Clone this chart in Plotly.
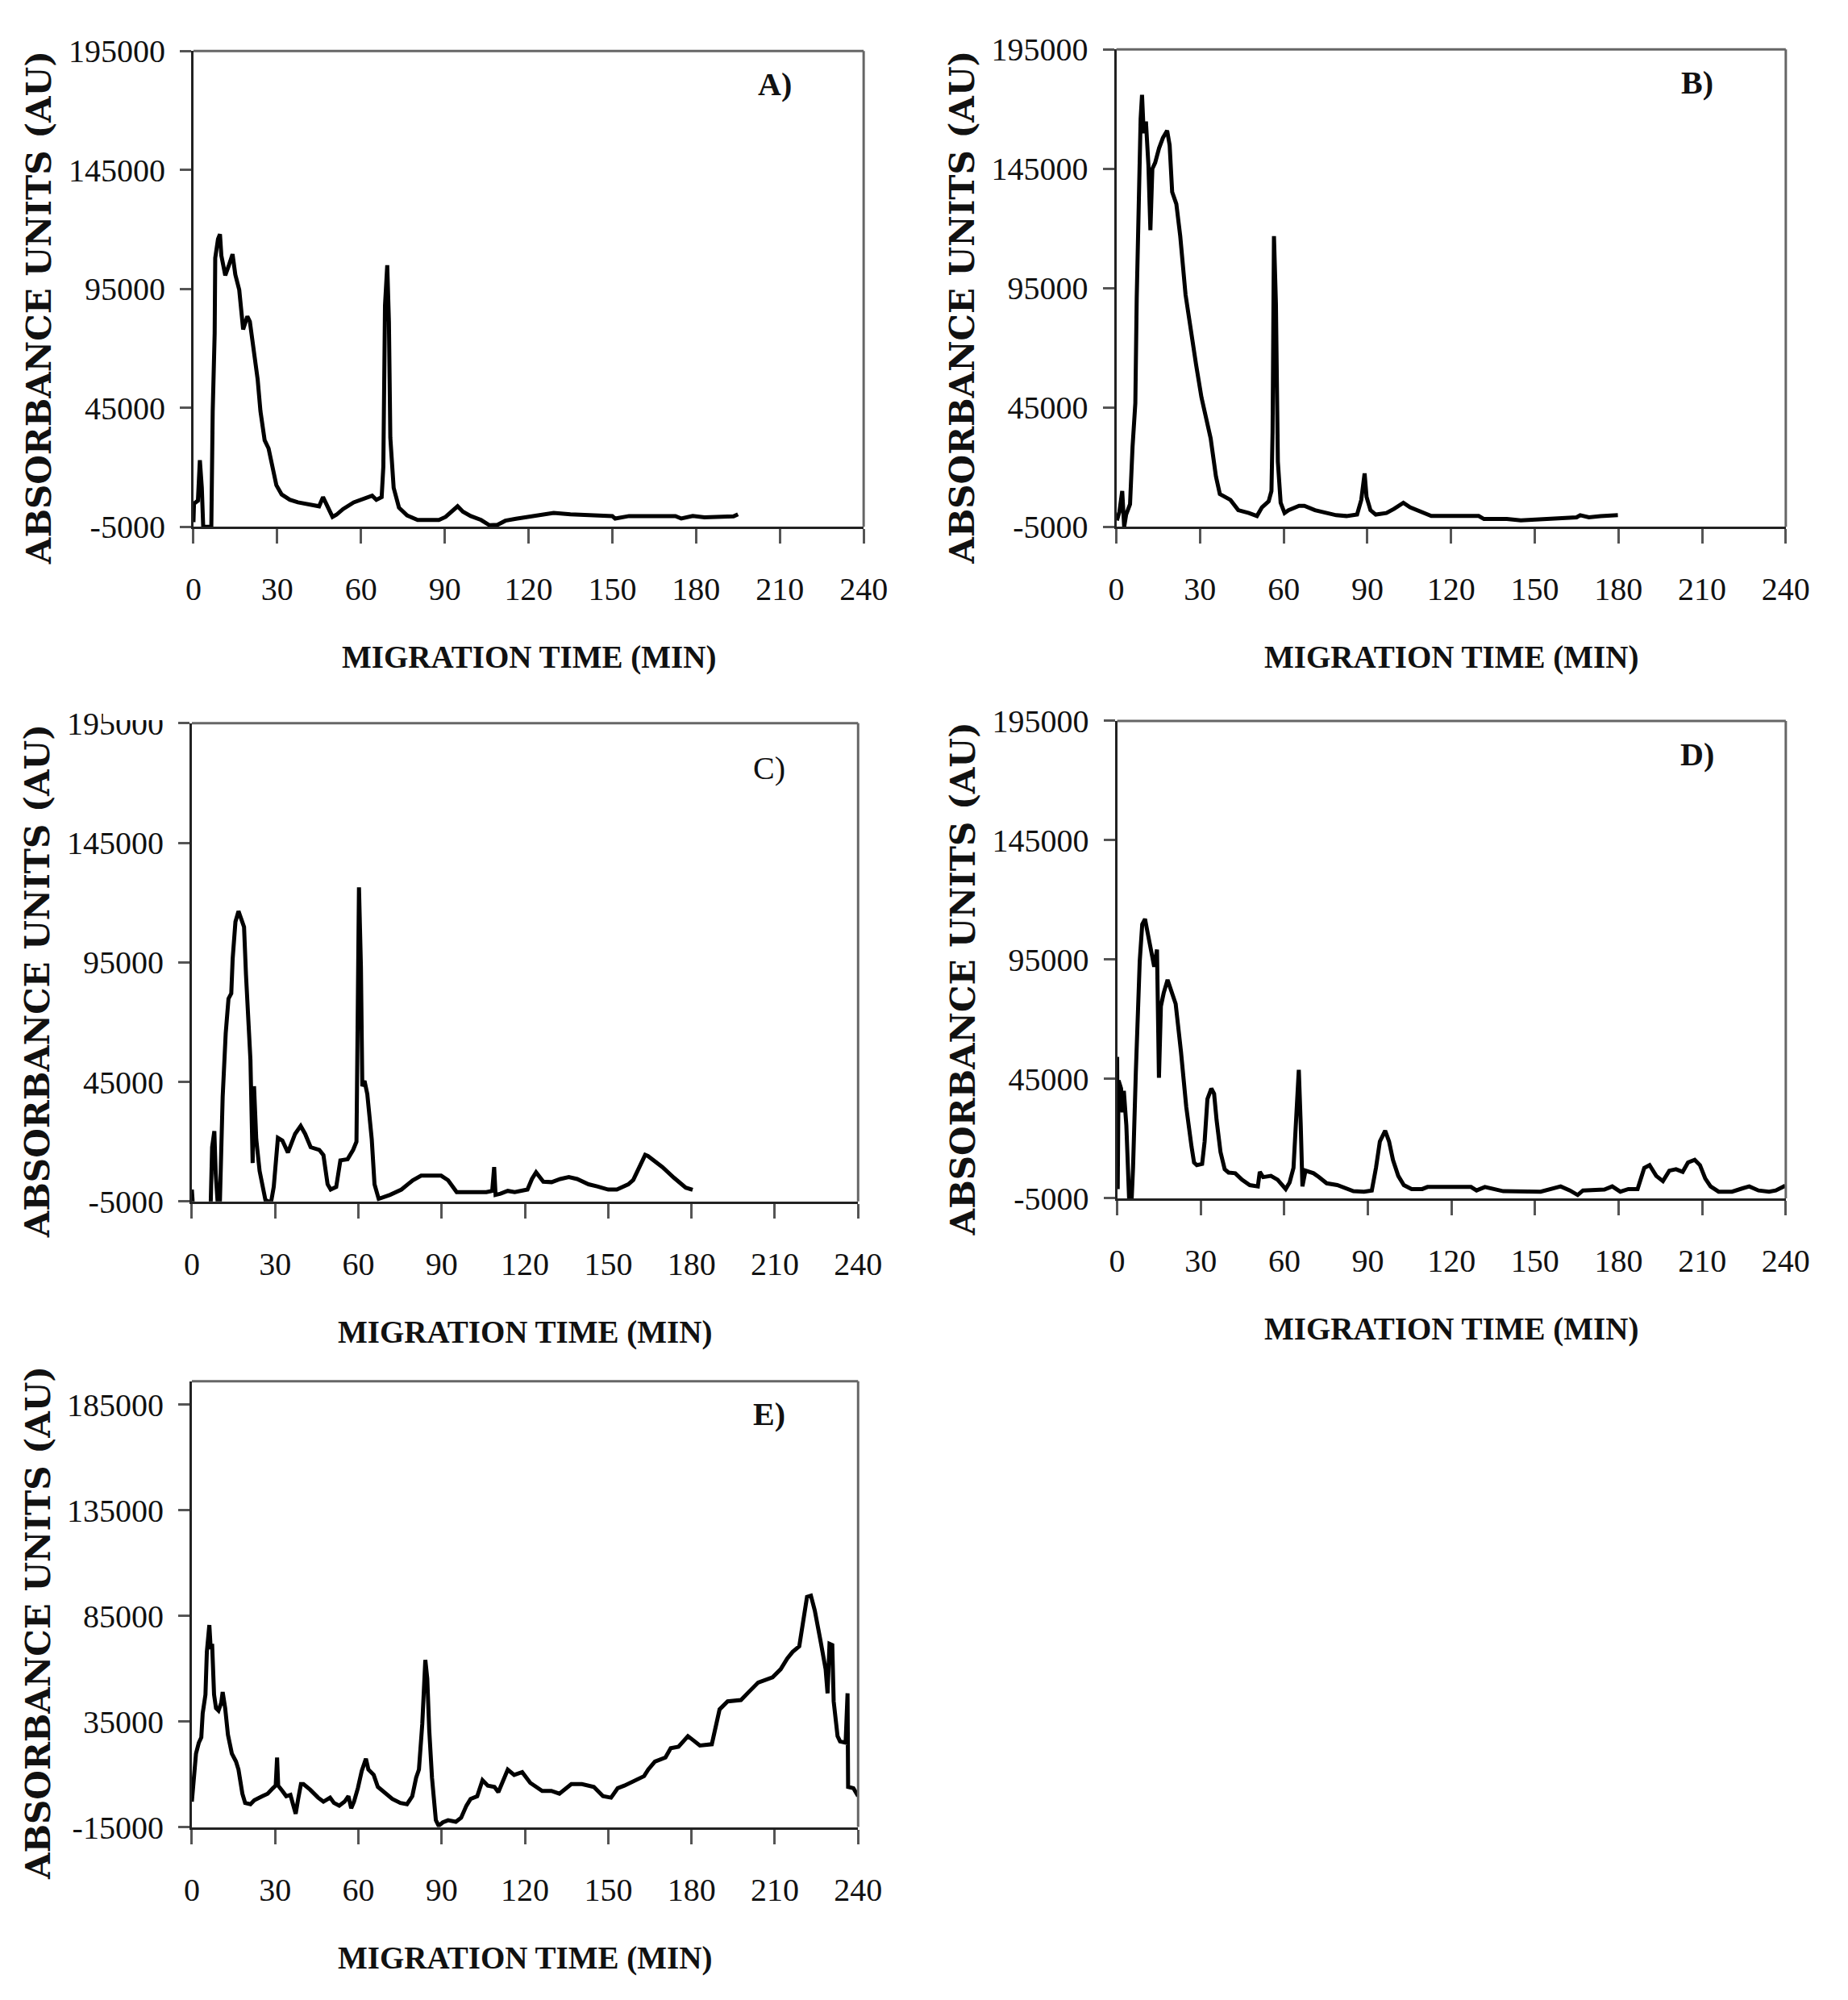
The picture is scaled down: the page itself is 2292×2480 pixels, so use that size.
import plotly.graph_objects as go

W, H = 2292, 2480

# ---------------- data (migration time in min, absorbance in AU) ----------------
time_a = [0, 0.2, 1.6, 2.3, 3.0, 3.5, 6.4, 6.9, 7.6, 7.8, 8.8, 9.5, 10.0, 11.4, 12.6, 14.0, 15.0, 16.4,
          17.8, 19.3, 20.2, 21.6, 23.0, 24.0, 25.5, 26.9, 27.8, 29.7, 31.6, 34.5, 37.4, 41.2, 45.0, 46.4,
          47.9, 49.8, 51.2, 53.6, 57.4, 60.2, 64.0, 65.5, 67.4, 68.0, 68.6, 69.4, 70.0, 70.5, 71.7, 73.6,
          76.5, 80.3, 87.9, 90.3, 92.7, 94.6, 96.5, 99.3, 103.0, 106.0, 108.9, 111.7, 115.5, 120.3, 125.0,
          129.0, 135.0, 150.0, 151.0, 156.0, 172.6, 174.7, 178.8, 183.0, 193.4, 195.0]
au_a = [-3000, 4800, 6000, 23000, 11400, -5000, -5000, 43600, 76300, 108000, 116000, 118000, 109000, 100700,
        104600, 109600, 101000, 94600, 78000, 83500, 81300, 70000, 57000, 43600, 31400, 28000, 22500, 12500,
        8600, 6400, 5300, 4500, 3650, 7500, 4200, -800, 100, 2500, 5300, 6400, 8100, 6400, 7500, 20300,
        88000, 105000, 81300, 32500, 11400, 3100, -200, -2100, -2100, -800, 2000, 3650, 1400, -450, -2100,
        -4300, -4100, -2400, -1600, -800, 300, 840, 300, -440, -1500, -440, -440, -1500, -440, -1000, -600, 300]

time_b = [0.2, 1.1, 2.1, 2.8, 3.5, 4.9, 5.8, 6.8, 7.3, 8.0, 8.7, 9.2, 9.8, 10.6, 11.5, 12.2, 12.9, 13.9,
          15.3, 16.7, 18.2, 19.1, 20.0, 21.5, 22.9, 24.8, 26.7, 28.6, 30.5, 32.4, 33.8, 35.7, 37.1, 40.9,
          43.7, 47.5, 50.4, 52.2, 54.6, 55.6, 56.0, 56.5, 57.2, 57.9, 58.9, 60.3, 61.7, 65.5, 67.4, 71.2,
          75.0, 78.8, 82.5, 86.3, 87.8, 89.0, 89.7, 91.1, 93.0, 96.8, 99.6, 102.9, 105.3, 109.0, 112.9,
          120.4, 129.9, 131.8, 140.0, 145.0, 150.7, 165.0, 166.3, 169.4, 173.6, 179.8]
au_b = [-2300, 1400, 10000, -5000, 160, 4500, 28400, 46800, 91000, 139000, 166000, 176000, 159900, 164800,
        146300, 119300, 145000, 147500, 153600, 158000, 161000, 154900, 135300, 130300, 116800, 92300,
        76300, 62800, 49300, 38200, 32100, 16100, 8750, 6300, 2000, 800, -450, 3200, 5700, 10000, 34500,
        116800, 88600, 22300, 5100, 800, 2000, 3850, 3850, 2000, 800, -100, -450, 160, 6300, 17400, 7500,
        2000, 160, 800, 2600, 5100, 3200, 1400, -450, -450, -450, -1700, -1700, -2300, -1900, -1000, -100,
        -1000, -500, -100]

time_c = [0, 0.4, 6.5, 6.8, 7.3, 8.1, 8.6, 9.3, 10.1, 11.1, 12.2, 13.2, 14.2, 14.7, 15.7, 16.8, 17.8,
          18.8, 19.5, 20.3, 21.1, 21.9, 22.4, 23.2, 24.4, 26.5, 28.5, 29.5, 31.0, 32.6, 34.6, 37.2, 39.2,
          40.8, 42.8, 45.9, 47.4, 48.9, 50.0, 52.0, 53.5, 56.1, 58.1, 59.3, 60.2, 60.9, 61.4, 62.2, 63.2,
          64.8, 65.8, 67.3, 71.4, 75.5, 79.6, 82.6, 89.8, 92.3, 95.4, 106.1, 108.2, 108.9, 109.4, 111.2,
          113.8, 116.3, 120.9, 122.5, 124.0, 126.6, 129.6, 132.7, 135.8, 138.8, 142.9, 146.0, 150.0, 153.1,
          157.2, 159.0, 163.3, 164.3, 169.5, 173.7, 177.9, 180.4]
au_c = [0, -7000, -7000, -5500, 17700, 24400, 6600, -5500, -5500, 38800, 65400, 79800, 82000, 96500,
        112000, 116400, 113100, 109800, 89800, 72100, 54300, 11100, 43200, 21100, 7800, -4400, -5500, 1100,
        21600, 20500, 15500, 23300, 26600, 23300, 17700, 16600, 14400, 2200, 0, 1100, 12200, 12700, 16600,
        20000, 126400, 93100, 43200, 45500, 39900, 21100, 2200, -3900, -2200, 0, 3900, 5800, 5800, 3900,
        -1100, -1100, -550, 9400, -2200, -1700, -550, -1100, 0, 4400, 7200, 3300, 3100, 4400, 5200, 4400,
        2200, 1300, 0, 0, 2200, 4000, 14500, 14000, 9400, 4900, 800, -100]

time_d = [0, 0.2, 0.5, 1.4, 1.9, 2.4, 3.3, 4.3, 5.2, 5.7, 6.7, 7.3, 8.1, 9.0, 10.0, 10.9, 12.4, 13.3,
          14.3, 15.0, 15.7, 16.7, 18.1, 19.5, 21.0, 22.9, 24.8, 26.7, 27.6, 28.6, 30.5, 31.4, 32.4, 33.8,
          34.8, 35.7, 37.1, 38.6, 40.0, 42.4, 44.8, 47.6, 50.5, 51.2, 52.4, 55.2, 57.6, 60.5, 61.9, 63.3,
          64.0, 65.2, 65.9, 66.5, 67.6, 70.5, 72.4, 75.2, 79.0, 81.9, 84.8, 88.6, 91.4, 92.9, 94.3, 96.2,
          97.6, 99.0, 100.9, 102.9, 105.7, 109.5, 111.4, 127.0, 129.0, 132.0, 134.0, 138.6, 152.0, 155.8,
          159.2, 162.5, 165.3, 167.2, 174.9, 177.7, 180.6, 183.5, 186.8, 189.2, 191.1, 193.5, 195.9, 198.2,
          200.6, 203.0, 204.9, 207.3, 209.2, 211.1, 213.0, 215.9, 220.7, 224.5, 226.9, 230.2, 234.0, 236.4,
          238.8, 239.8]
au_d = [54300, -1100, 44400, 41000, 31000, 40000, 25500, -5500, -5500, 7750, 47700, 72100, 94300, 109800,
        112000, 106500, 97600, 92000, 99200, 45500, 75500, 81000, 86500, 82000, 76500, 56500, 33300, 16600,
        10000, 8900, 9400, 18800, 36600, 41000, 38800, 27700, 14400, 7200, 5800, 5500, 2800, 550, 0, 6100,
        3900, 4400, 2800, -1100, 1650, 7750, 22200, 48800, 25500, 0, 6600, 5500, 3900, 1300, 550, -550,
        -2000, -2200, -1700, 7750, 18800, 23300, 18800, 11100, 4400, 550, -1100, -1100, -230, -230, -1700,
        -230, -900, -2000, -2200, -1100, 0, -1700, -3600, -1700, -1300, 0, -2200, -1100, -1100, 7750, 8900,
        4400, 2200, 6600, 7200, 6100, 10000, 11100, 8900, 3300, 0, -2200, -2200, -800, 0, -1700, -2200,
        -1700, 0, 300]

time_e = [0, 0.6, 1.5, 2.5, 3.4, 3.9, 4.9, 5.4, 6.3, 6.8, 7.3, 8.0, 8.7, 9.6, 10.6, 11.1, 12.0, 13.0,
          14.4, 15.9, 16.8, 18.2, 19.2, 21.1, 22.5, 25.4, 27.3, 29.2, 30.2, 30.7, 31.1, 32.6, 34.0, 35.5,
          36.4, 37.4, 38.3, 39.3, 40.2, 42.6, 45.5, 47.4, 49.8, 51.2, 53.1, 55.0, 56.4, 57.4, 58.4, 59.8,
          61.2, 62.7, 63.6, 65.5, 67.0, 68.9, 72.2, 75.1, 77.5, 79.4, 80.8, 81.8, 83.0, 84.1, 84.8, 85.5,
          86.5, 87.9, 88.9, 90.4, 92.3, 95.1, 97.0, 98.9, 100.4, 102.8, 104.7, 106.6, 109.0, 110.4, 111.8,
          113.8, 116.1, 119.0, 121.9, 126.2, 129.5, 132.4, 136.7, 140.5, 144.8, 148.1, 151.0, 153.4, 155.8,
          159.6, 162.9, 164.4, 166.8, 170.6, 172.5, 175.3, 178.7, 180.6, 183.0, 187.3, 188.7, 190.1, 193.0,
          197.8, 200.6, 204.0, 209.2, 212.1, 214.5, 216.4, 218.8, 220.2, 221.6, 223.0, 224.4, 226.4, 228.3,
          229.0, 229.7, 230.7, 231.2, 232.6, 233.5, 235.5, 236.2, 236.4, 238.3, 240.0]
au_e = [-3000, 4600, 19800, 24900, 27400, 38800, 47700, 67900, 80600, 69200, 71700, 47700, 41300, 40100,
        43900, 48900, 41300, 28700, 19800, 16000, 12200, 800, -3600, -4200, -2300, -400, 800, 3400, 4600,
        17900, 4600, 2100, -400, 200, -4200, -8700, -1700, 5300, 5300, 2700, -1100, -3000, -1100, -3600,
        -4900, -3000, -400, -6100, -3000, 3400, 11600, 17300, 12200, 9700, 4000, 2100, -1700, -3600, -4200,
        -400, 8400, 12200, 33700, 64100, 55300, 31200, 8400, -11800, -14400, -12800, -11800, -12500,
        -10600, -4900, -1700, -400, 7200, 4600, 4000, 1500, 5900, 12200, 9700, 11000, 5900, 2100, 2100, 800,
        5300, 5300, 4000, -400, -1100, 3400, 4600, 7200, 9100, 12200, 16000, 17900, 22300, 23000, 28000,
        26100, 23600, 24200, 33100, 40700, 44500, 45100, 48900, 53400, 55900, 59700, 64800, 67900, 70500,
        82500, 93900, 94500, 87500, 73600, 59700, 48300, 71700, 71100, 44500, 28000, 25500, 24900, 48300,
        4000, 3400, -400]

x_ticks = [0, 30, 60, 90, 120, 150, 180, 210, 240]
y_ticks_abcd = [-5000, 45000, 95000, 145000, 195000]
y_ticks_e = [-15000, 35000, 85000, 135000, 185000]
panel_labels = ["A)", "B)", "C)", "D)", "E)"]
x_title = "MIGRATION TIME (MIN)"
y_title = "ABSORBANCE UNITS (AU)"

# ---------------- layout helpers ----------------
def fx(px):
    return px / W

def fy(py):
    return 1 - py / H

FONT = "Liberation Serif, Times New Roman, serif"
YFONT = "DejaVu Serif, Liberation Serif, serif"

# plot-area rectangles in pixels: (left, top, right, bottom)
boxes = [
    (234, 42, 1080, 643),
    (1399, 40, 2244, 643),
    (232, 891, 1073, 1495),
    (1400, 888, 2244, 1491),
    (232, 1722, 1073, 2285),
]
series = [(time_a, au_a), (time_b, au_b), (time_c, au_c), (time_d, au_d), (time_e, au_e)]
yranges = [(-5000, 195000)] * 4 + [(-15000, 196000)]
yticks = [y_ticks_abcd] * 4 + [y_ticks_e]

fig = go.Figure()
layout = dict(
    width=W, height=H, margin=dict(l=0, r=0, t=0, b=0),
    paper_bgcolor="white", plot_bgcolor="white", showlegend=False,
    font=dict(family=FONT, color="#111", size=40),
)
shapes = []
annotations = []

for i, ((l, t, r, b), (xs, ys)) in enumerate(zip(boxes, series)):
    n = "" if i == 0 else str(i + 1)
    fig.add_trace(go.Scatter(x=xs, y=ys, mode="lines", xaxis="x" + n, yaxis="y" + n,
                             line=dict(color="black", width=5), hoverinfo="skip"))
    layout["xaxis" + n] = dict(
        domain=[fx(l), fx(r)], anchor="y" + n, range=[0, 240],
        tickvals=x_ticks, ticktext=[str(v) for v in x_ticks],
        showgrid=False, zeroline=False, showline=True, linecolor="#222", linewidth=3,
        ticks="outside", ticklen=18, tickwidth=3, tickcolor="#555",
        tickfont=dict(family=FONT, size=40, color="#111"), ticklabelstandoff=22,
    )
    tv = yticks[i]
    layout["yaxis" + n] = dict(
        domain=[fy(b), fy(t)], anchor="x" + n, range=list(yranges[i]),
        tickvals=tv, ticktext=[str(v) for v in tv],
        showgrid=False, zeroline=False, showline=True, linecolor="#222", linewidth=3,
        ticks="outside", ticklen=14, tickwidth=3, tickcolor="#555",
        tickfont=dict(family=FONT, size=40, color="#111"), ticklabelstandoff=10,
    )
    # top / right border (gray)
    shapes.append(dict(type="line", xref="paper", yref="paper", x0=fx(l), x1=fx(r), y0=fy(t), y1=fy(t),
                       line=dict(color="#666", width=3)))
    shapes.append(dict(type="line", xref="paper", yref="paper", x0=fx(r), x1=fx(r), y0=fy(t), y1=fy(b),
                       line=dict(color="#666", width=3)))
    # x title
    annotations.append(dict(text="<b>" + x_title + "</b>", xref="paper", yref="paper",
                            x=fx((l + r) / 2), y=fy(b + 165), showarrow=False,
                            font=dict(family=FONT, size=39, color="#111"),
                            xanchor="center", yanchor="middle"))
    # y title
    annotations.append(dict(text="<b>" + y_title + "</b>", xref="paper", yref="paper",
                            x=fx(l - 194), y=fy((t + b) / 2 + 24), showarrow=False, textangle=-90,
                            font=dict(family=YFONT, size=42, color="#111"),
                            xanchor="center", yanchor="middle"))
    # panel label
    lab = panel_labels[i]
    txt = lab if lab == "C)" else "<b>" + lab + "</b>"
    annotations.append(dict(text=txt, xref="paper", yref="paper",
                            x=fx(r - 112), y=fy(t + 42 + (15 if i == 2 else 0)), showarrow=False,
                            font=dict(family=FONT, size=40, color="#111"),
                            xanchor="center", yanchor="middle"))

# crop artefact of the original figure: the top tick label of panel C is cut off
shapes.append(dict(type="rect", xref="paper", yref="paper", x0=fx(120), x1=fx(228),
                   y0=fy(887), y1=fy(850), fillcolor="white", line=dict(width=0), layer="above"))

layout["shapes"] = shapes
layout["annotations"] = annotations
fig.update_layout(**layout)
fig.write_html("out.html", config={"displayModeBar": False},
               post_script="document.body.style.margin='0px';")
